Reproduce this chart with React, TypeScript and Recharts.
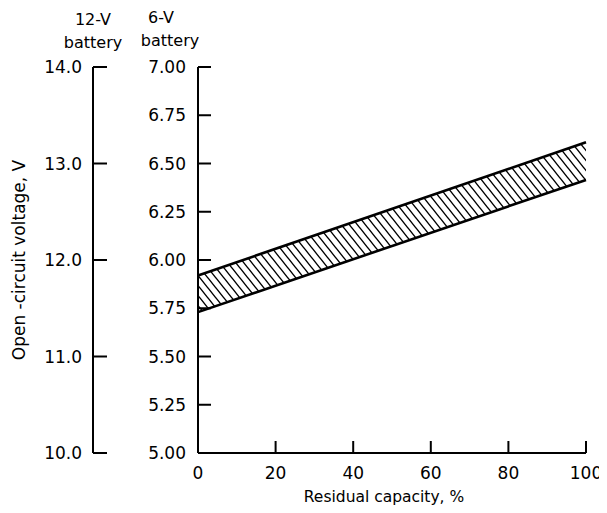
import { ComposedChart, Area, XAxis, YAxis } from 'recharts';

// residual capacity (%) and the open-circuit voltage band of a 6-V battery
const capacity = [0, 100];
const lowerVolts = [5.73, 6.415];
const upperVolts = [5.92, 6.61];

const xTicks = [0, 20, 40, 60, 80, 100];
const v6Ticks = [5.0, 5.25, 5.5, 5.75, 6.0, 6.25, 6.5, 6.75, 7.0];
const v12Ticks = [10, 11, 12, 13, 14];

const data = capacity.map((c, i) => ({ cap: c, band: [lowerVolts[i], upperVolts[i]] }));

const FONT = '"DejaVu Sans", sans-serif';
const INK = '#000';

// y tick: label on the left, short tick drawn to the right of the axis line
const yTick = (gap: number, len: number, digits: number) => (props: any) => {
  const { x, y, payload } = props;
  return (
    <g>
      <text x={x} y={y} dy="0.36em" textAnchor="end" fontSize={17} fill={INK} fontFamily={FONT}>
        {Number(payload.value).toFixed(digits)}
      </text>
      <line x1={x + gap} x2={x + gap + len} y1={y} y2={y} stroke={INK} strokeWidth={2} />
    </g>
  );
};

const xTick = (props: any) => {
  const { x, y, payload } = props;
  return (
    <g>
      <text x={x} y={y} dy="0.71em" textAnchor="middle" fontSize={17} fill={INK} fontFamily={FONT}>
        {payload.value}
      </text>
      <line x1={x} x2={x} y1={y - 14} y2={y - 26} stroke={INK} strokeWidth={2} />
    </g>
  );
};

const header = (first: string, dx: number, dy: number, shift: number) => (props: any) => {
  const vb = props.viewBox;
  const cx = vb.x + vb.width + dx;
  return (
    <text textAnchor="middle" fontSize={16} fill={INK} fontFamily={FONT}>
      <tspan x={cx} y={vb.y + dy}>{first}</tspan>
      <tspan x={cx + shift} y={vb.y + dy + 23}>battery</tspan>
    </text>
  );
};

const yTitle = (props: any) => {
  const vb = props.viewBox;
  const x = vb.x + 17;
  const y = vb.y + vb.height / 2;
  return (
    <text x={x} y={y} transform={`rotate(-90, ${x}, ${y})`} textAnchor="middle" fontSize={17} fill={INK} fontFamily={FONT}>
      Open -circuit voltage, V
    </text>
  );
};

export default function App() {
  return (
    <div style={{ fontFamily: FONT }}>
      <svg width={0} height={0} style={{ position: 'absolute' }}>
        <defs>
          <pattern id="hatch" patternUnits="userSpaceOnUse" width={8} height={10}>
            <path d="M-2,-2.5 L10,12.5 M-10,-2.5 L2,12.5 M6,-2.5 L18,12.5" stroke={INK} strokeWidth={1.4} />
          </pattern>
        </defs>
      </svg>
      <ComposedChart width={599} height={497} data={data} margin={{ top: 59, right: 21, bottom: 0, left: 0 }}>
        <XAxis
          dataKey="cap"
          type="number"
          domain={[0, 100]}
          ticks={xTicks}
          height={52}
          tickLine={false}
          tickSize={0}
          tickMargin={14}
          tick={xTick}
          axisLine={{ stroke: INK, strokeWidth: 2 }}
          label={{ value: 'Residual capacity, %', position: 'insideBottom', offset: 3, dx: -8, fontSize: 15.5, fill: INK, fontFamily: FONT }}
        />
        <XAxis xAxisId="top" orientation="top" type="number" domain={[0, 100]} height={0} tick={false} tickLine={false} axisLine={{ stroke: INK, strokeWidth: 2 }} />
        <YAxis
          yAxisId="a6"
          type="number"
          domain={[5, 7]}
          ticks={v6Ticks}
          width={105}
          tickLine={false}
          tickSize={0}
          tickMargin={12}
          tick={yTick(12, 13, 2)}
          axisLine={{ stroke: INK, strokeWidth: 2 }}
          label={{ content: header('6-V', -37, -44, 9) }}
        />
        <YAxis
          yAxisId="b12"
          type="number"
          domain={[10, 14]}
          ticks={v12Ticks}
          allowDataOverflow
          width={85}
          tickLine={false}
          tickSize={0}
          tickMargin={11}
          tick={yTick(11, 14, 1)}
          axisLine={{ stroke: INK, strokeWidth: 2 }}
          label={{ content: (p: any) => <g>{header('12-V', 0, -42, 0)(p)}{yTitle(p)}</g> }}
        />
        <YAxis yAxisId="right" orientation="right" width={0} tick={false} tickLine={false} axisLine={{ stroke: INK, strokeWidth: 2 }} />
        <Area
          yAxisId="a6"
          type="linear"
          dataKey="band"
          stroke={INK}
          strokeWidth={2.6}
          fill="url(#hatch)"
          fillOpacity={1}
          isAnimationActive={false}
          dot={false}
          activeDot={false}
        />
      </ComposedChart>
    </div>
  );
}
